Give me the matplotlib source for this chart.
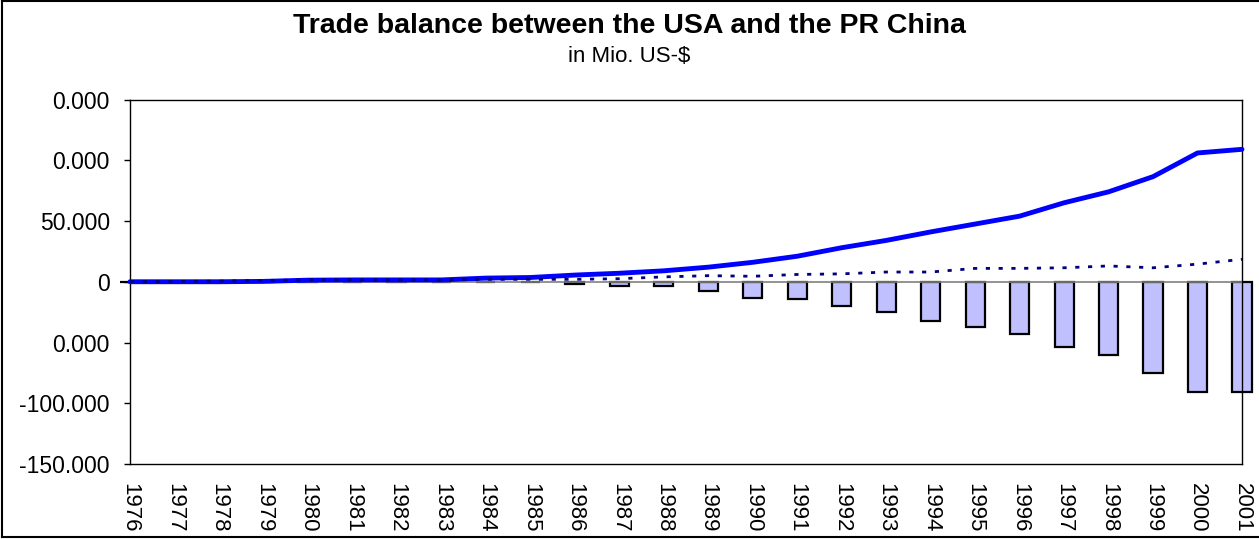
import numpy as np
import matplotlib
matplotlib.use("Agg")
import matplotlib.pyplot as plt
from matplotlib.lines import Line2D

plt.rcParams['font.family'] = ['Liberation Sans', 'DejaVu Sans']

# Daten (Mio. US-$)
years = list(range(1976, 2002))
imports = [0, 0, 0, 300, 1300, 1500, 1500, 1500, 3000, 3500, 5500, 7000, 9000,
           12000, 16000, 21000, 28000, 34000, 41000, 47500, 54000, 65000, 74000,
           86500, 106000, 109000]
exports = [100, 200, 500, 1000, 1500, 1500, 1500, 1500, 2000, 2000, 2000, 2500, 4000,
           5000, 4500, 6000, 6500, 8000, 8000, 11000, 11000, 11500, 13000, 11500,
           14500, 18500]
balance = [0, 0, 0, 1000, 500, 200, 300, 200, -300, -500, -2000, -3500, -3500,
           -7500, -13000, -14500, -20000, -25000, -32000, -37500, -43000, -54000,
           -60500, -75000, -90500, -90500]
ytick_vals = [-150000, -100000, -50000, 0, 50000, 100000, 150000]
ytick_labels = ['-150.000', '-100.000', '0.000', '0', '50.000', '0.000', '0.000']

fig = plt.figure(figsize=(12.59, 5.39), dpi=100)
ax = fig.add_axes([130 / 1259, 1 - 464 / 539, (1242 - 130) / 1259, (464 - 99.5) / 539])

# Saeulen fuer die Handelsbilanz
ax.bar(years, balance, width=0.43, color='#C0C0FF', edgecolor='black',
       linewidth=1.6, zorder=2, clip_on=False)
ax.axhline(0, color='#808080', linewidth=1.2, zorder=3)

# Linien
ax.plot(years, imports, color='#0000FF', linewidth=3.5, zorder=4,
        solid_capstyle='round', clip_on=False)
ax.plot(years, exports, color='#000080', linewidth=2.0, zorder=4,
        dashes=(1.5, 3.1), dash_capstyle='butt', clip_on=False)

ax.set_xlim(1976, 2001)
ax.set_ylim(-150000, 150000)
ax.set_yticks(ytick_vals)
ax.set_yticklabels(ytick_labels, fontsize=16.5)
ax.set_xticks(years)
ax.set_xticklabels([str(y) for y in years], rotation=-90, fontsize=16, va='top')
ax.tick_params(axis='x', length=0, pad=13.5)
ax.tick_params(axis='y', length=4, width=1, direction='out', pad=10.5)
for s in ax.spines.values():
    s.set_linewidth(1.0)
    s.set_color('black')

fig.text(0.5, 1 - 33 / 539, 'Trade balance between the USA and the PR China',
         ha='center', va='baseline', fontsize=20.5, fontweight='bold')
fig.text(0.5, 1 - 62 / 539, 'in Mio. US-$', ha='center', va='baseline', fontsize=16)

# Rahmen um das Diagramm (rechts abgeschnitten)
fig.add_artist(Line2D([2 / 1259, 2 / 1259], [2 / 539, 1 - 1 / 539], color='black',
                      linewidth=1.5, transform=fig.transFigure))
fig.add_artist(Line2D([2 / 1259, 1], [1 - 1 / 539, 1 - 1 / 539], color='black',
                      linewidth=1.5, transform=fig.transFigure))
fig.add_artist(Line2D([2 / 1259, 1], [2 / 539, 2 / 539], color='black',
                      linewidth=1.5, transform=fig.transFigure))

fig.savefig('out.png', dpi=100)
